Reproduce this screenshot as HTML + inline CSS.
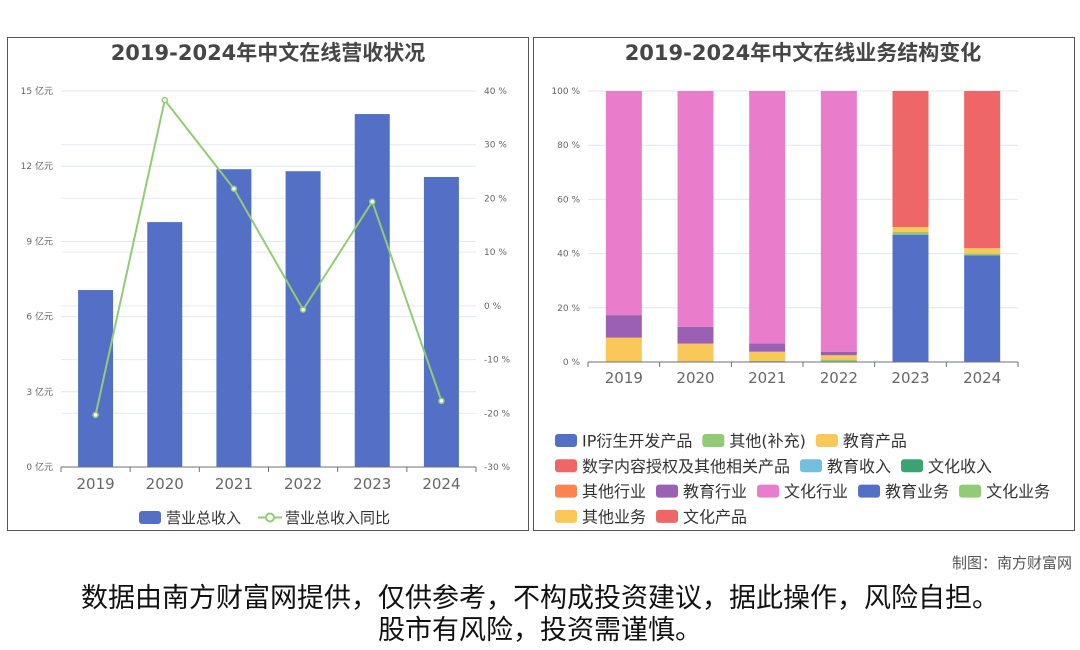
<!DOCTYPE html>
<html><head><meta charset="utf-8"><style>
body{margin:0;background:#fff;width:1080px;height:646px;overflow:hidden;font-family:"DejaVu Sans","Noto Sans CJK SC",sans-serif}
svg text{font-family:"DejaVu Sans","Noto Sans CJK SC",sans-serif}
</style></head><body>
<svg id="s" width="1080" height="646" xmlns="http://www.w3.org/2000/svg">
<rect x="7.5" y="37.5" width="521" height="493" fill="#fff" stroke="#555"/>
<rect x="533.5" y="37.5" width="541" height="493" fill="#fff" stroke="#555"/>
<text x="268" y="60" text-anchor="middle" font-size="21" font-weight="bold" fill="#464646">2019-2024年中文在线营收状况</text>
<text x="803" y="60" text-anchor="middle" font-size="21" font-weight="bold" fill="#464646">2019-2024年中文在线业务结构变化</text>
<g id="L"></g><g id="R"></g>
<text x="1072" y="568" text-anchor="end" font-size="15" fill="#555">制图：南方财富网</text>
<text x="540" y="607" text-anchor="middle" font-size="27" fill="#111">数据由南方财富网提供，仅供参考，不构成投资建议，据此操作，风险自担。</text>
<text x="540" y="639" text-anchor="middle" font-size="27" fill="#111">股市有风险，投资需谨慎。</text>
</svg>
<script>
const years=['2019','2020','2021','2022','2023','2024'];
const revenue=[7.06,9.77,11.88,11.8,14.08,11.57];
const growth=[-20.3,38.3,21.8,-0.7,19.4,-17.7];
const revTicks=[0,3,6,9,12,15];
const pctTicks=[-30,-20,-10,0,10,20,30,40];
const shareNames=['IP衍生开发产品','其他(补充)','教育产品','教育行业','文化行业','数字内容授权及其他相关产品'];
const shareColors=['#5470c6','#91cc75','#fac858','#9a60b4','#ea7ccc','#ee6666'];
const shareBlue=[0,0,0,0,47,39.4];
const shareGreen=[0,0.3,0.4,0.9,1,0.6];
const shareYellow=[9,6.5,3.4,1.6,1.8,2];
const sharePurple=[8.3,6.2,3.1,1.3,0,0];
const sharePink=[82.7,87,93.1,96.2,0,0];
const shareRed=[0,0,0,0,50.2,58];
const shareTicks=[0,20,40,60,80,100];
const legendNames=['IP衍生开发产品','其他(补充)','教育产品','数字内容授权及其他相关产品','教育收入','文化收入','其他行业','教育行业','文化行业','教育业务','文化业务','其他业务','文化产品'];
const legendColors=['#5470c6','#91cc75','#fac858','#ee6666','#73c0de','#3ba272','#fc8452','#9a60b4','#ea7ccc','#5470c6','#91cc75','#fac858','#ee6666'];
const NS='http://www.w3.org/2000/svg';
function mk(p,t,a,txt){const e=document.createElementNS(NS,t);for(const k in a)e.setAttribute(k,a[k]);if(txt!=null)e.textContent=txt;p.appendChild(e);return e;}
const L=document.getElementById('L');
const lx0=61,lx1=476,ly0=467,ly1=91;
const step=(lx1-lx0)/years.length;
const xc=i=>lx0+step*(i+0.5);
const yRev=v=>ly0-(v-0)/15*(ly0-ly1);
const yPct=v=>ly0-(v+30)/70*(ly0-ly1);
pctTicks.forEach(t=>{const g=mk(L,'line',{x1:lx0,x2:lx1,y1:yPct(t),y2:yPct(t),stroke:'#e6e9f4'});

const tx=mk(L,'text',{x:484,y:yPct(t)+3,'font-size':9,fill:'#666'},t+' %');
});
revTicks.forEach(t=>{const g=mk(L,'line',{x1:lx0,x2:lx1,y1:yRev(t),y2:yRev(t),stroke:'#e0e6f1'});

const tx=mk(L,'text',{x:53,y:yRev(t)+3,'font-size':9,fill:'#666','text-anchor':'end'},t+' 亿元');
});
revenue.forEach((v,i)=>{const b=mk(L,'rect',{x:xc(i)-17.5,y:yRev(v),width:35,height:ly0-yRev(v),fill:'#5470c6'});
});
const ax=mk(L,'line',{x1:lx0,x2:lx1,y1:ly0,y2:ly0,stroke:'#6e7079'});

years.forEach((y,i)=>{mk(L,'line',{x1:lx0+step*i,x2:lx0+step*i,y1:ly0,y2:ly0+5,stroke:'#6e7079'});
const t=mk(L,'text',{x:xc(i),y:489,'font-size':15,fill:'#666','text-anchor':'middle'},y);
});
mk(L,'line',{x1:lx1,x2:lx1,y1:ly0,y2:ly0+5,stroke:'#6e7079'});
const pl=mk(L,'polyline',{points:growth.map((v,i)=>xc(i)+','+yPct(v)).join(' '),fill:'none',stroke:'#91cc75','stroke-width':2});

growth.forEach((v,i)=>{const c=mk(L,'circle',{cx:xc(i),cy:yPct(v),r:2.5,fill:'#fff',stroke:'#91cc75','stroke-width':1.5});
});
const lg1=mk(L,'rect',{x:139,y:511,width:22,height:13,rx:3,fill:'#5470c6'});

mk(L,'text',{x:166,y:523,'font-size':15,fill:'#333'},'营业总收入');
mk(L,'line',{x1:258,x2:282,y1:517.5,y2:517.5,stroke:'#91cc75','stroke-width':2});
const lg2=mk(L,'circle',{cx:270,cy:517.5,r:4,fill:'#fff',stroke:'#91cc75','stroke-width':2});

mk(L,'text',{x:285,y:523,'font-size':15,fill:'#333'},'营业总收入同比');
const R=document.getElementById('R');
const rx0=588,rx1=1018,ry0=362,ry1=91;
const rstep=(rx1-rx0)/years.length;
const rxc=i=>rx0+rstep*(i+0.5);
const yS=v=>ry0-v/100*(ry0-ry1);
shareTicks.forEach(t=>{const g=mk(R,'line',{x1:rx0,x2:rx1,y1:yS(t),y2:yS(t),stroke:'#e0e6f1'});

const tx=mk(R,'text',{x:580,y:yS(t)+3,'font-size':9,fill:'#666','text-anchor':'end'},t+' %');
});
const series=[shareBlue,shareGreen,shareYellow,sharePurple,sharePink,shareRed];
years.forEach((y,i)=>{let acc=0;series.forEach((s,k)=>{const v=s[i];if(v<=0)return;
const r=mk(R,'rect',{x:rxc(i)-18,y:yS(acc+v),width:36,height:yS(acc)-yS(acc+v),fill:shareColors[k]});
acc+=v;});});
const rax=mk(R,'line',{x1:rx0,x2:rx1,y1:ry0,y2:ry0,stroke:'#6e7079'});

years.forEach((y,i)=>{mk(R,'line',{x1:rx0+rstep*i,x2:rx0+rstep*i,y1:ry0,y2:ry0+5,stroke:'#6e7079'});
const t=mk(R,'text',{x:rxc(i),y:383,'font-size':15,fill:'#666','text-anchor':'middle'},y);
});
mk(R,'line',{x1:rx1,x2:rx1,y1:ry0,y2:ry0+5,stroke:'#6e7079'});
const rows=[[0,1,2],[3,4,5],[6,7,8,9,10],[11,12]];
rows.forEach((row,ri)=>{let x=555;const y=434+ri*25.3;row.forEach(k=>{
const sw=mk(R,'rect',{x:x,y:y,width:22,height:13,rx:3,fill:legendColors[k]});

const t=mk(R,'text',{x:x+27,y:y+12.5,'font-size':16,fill:'#333'},legendNames[k]);
x+=27+t.getComputedTextLength()+10;});});
</script>
</body></html>
